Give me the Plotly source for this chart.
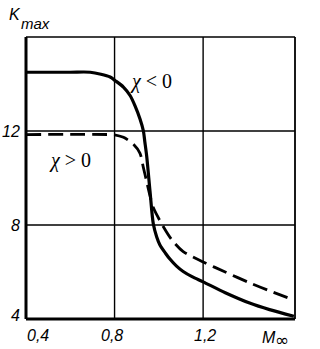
import plotly.graph_objects as go

# Data
mach_neg = [0.40, 0.60, 0.69, 0.78, 0.802, 0.84, 0.87, 0.892, 0.915, 0.93, 0.937, 0.945,
            0.96, 0.975, 0.99, 1.005, 1.03, 1.05, 1.08, 1.11, 1.15, 1.20, 1.30, 1.41, 1.50, 1.61]
kmax_neg = [14.5, 14.5, 14.5, 14.3, 14.15, 13.87, 13.51, 13.08, 12.51, 12.01, 11.52, 10.94,
            9.45, 8.05, 7.5, 7.15, 6.8, 6.55, 6.25, 6.02, 5.8, 5.58, 5.12, 4.68, 4.4, 4.12]

mach_pos = [0.40, 0.78, 0.80, 0.84, 0.885, 0.915, 0.93, 0.945, 0.96, 0.975, 1.013, 1.058,
            1.11, 1.20, 1.30, 1.41, 1.50, 1.61]
kmax_pos = [11.85, 11.85, 11.84, 11.73, 11.44, 11.05, 10.45, 9.85, 9.25, 8.74, 8.05, 7.38,
            6.87, 6.43, 6.0, 5.54, 5.2, 4.81]

x_tick_vals = [0.4, 0.8, 1.2]
x_tick_text = ["0,4", "0,8", "1,2"]
y_tick_vals = [4, 8, 12]
y_tick_text = ["4", "8", "12"]

X_RANGE = [0.4, 1.615]
Y_RANGE = [4, 16]

fig = go.Figure()
fig.add_trace(go.Scatter(x=mach_neg, y=kmax_neg, mode="lines",
                         line=dict(color="black", width=3.2, shape="spline", smoothing=0.8),
                         hoverinfo="skip", showlegend=False))
fig.add_trace(go.Scatter(x=mach_pos, y=kmax_pos, mode="lines",
                         line=dict(color="black", width=2.8, dash="15px,7px", shape="spline", smoothing=0.8),
                         hoverinfo="skip", showlegend=False))

shapes = []
# grid lines
for xv in [0.8, 1.2]:
    shapes.append(dict(type="line", xref="x", yref="paper", x0=xv, x1=xv, y0=0, y1=1,
                       line=dict(color="black", width=1.4), layer="below"))
for yv in [8, 12]:
    shapes.append(dict(type="line", xref="paper", yref="y", x0=0, x1=1, y0=yv, y1=yv,
                       line=dict(color="black", width=1.4), layer="below"))
# frame
shapes.append(dict(type="line", xref="paper", yref="paper", x0=0, x1=1, y0=1, y1=1,
                   line=dict(color="black", width=1.6)))
shapes.append(dict(type="line", xref="paper", yref="paper", x0=1, x1=1, y0=0, y1=1,
                   line=dict(color="black", width=1.8)))
shapes.append(dict(type="line", xref="paper", yref="paper", x0=0, x1=0, y0=0, y1=1,
                   line=dict(color="black", width=3)))
shapes.append(dict(type="line", xref="paper", yref="paper", x0=0, x1=1, y0=0, y1=0,
                   line=dict(color="black", width=3)))

tick_font = dict(family="Liberation Sans", size=16, color="black")
annotations = []
x_shifts = [12, -3, 2]
for v, t, s in zip(x_tick_vals, x_tick_text, x_shifts):
    annotations.append(dict(x=v, y=0, xref="x", yref="paper", text=f"<i>{t}</i>",
                            showarrow=False, xanchor="center", yanchor="top",
                            xshift=s, yshift=-6, font=tick_font))
annotations.append(dict(x=1.497, y=0, xref="x", yref="paper", text="<i>M</i>",
                        showarrow=False, xanchor="center", yanchor="top",
                        yshift=-8, font=tick_font))
annotations.append(dict(x=1.555, y=0, xref="x", yref="paper", text="∞",
                        showarrow=False, xanchor="center", yanchor="top",
                        yshift=-9, font=dict(family="DejaVu Sans", size=17, color="black")))
y_shifts = [4, 0, 0]
for v, t, s in zip(y_tick_vals, y_tick_text, y_shifts):
    annotations.append(dict(x=0, y=v, xref="paper", yref="y", text=f"<i>{t}</i>",
                            showarrow=False, xanchor="right", yanchor="middle",
                            xshift=-4, yshift=s, font=tick_font))
annotations.append(dict(x=0, y=1, xref="paper", yref="paper", text="<i>K</i>",
                        showarrow=False, xanchor="left", yanchor="bottom",
                        xshift=-19, yshift=12, font=dict(family="Liberation Sans", size=16, color="black")))
annotations.append(dict(x=0, y=1, xref="paper", yref="paper", text="<i>max</i>",
                        showarrow=False, xanchor="left", yanchor="bottom",
                        xshift=-7, yshift=3, font=dict(family="Liberation Sans", size=15, color="black")))
serif = dict(family="Liberation Serif", size=20, color="black")
annotations.append(dict(x=0.965, y=14.1, xref="x", yref="y", text="<i>χ</i> < 0",
                        showarrow=False, xanchor="center", yanchor="middle", font=serif))
annotations.append(dict(x=0.6, y=10.75, xref="x", yref="y", text="<i>χ</i> > 0",
                        showarrow=False, xanchor="center", yanchor="middle", font=serif))

fig.update_layout(
    width=320, height=349,
    margin=dict(l=26, r=25, t=37, b=30),
    paper_bgcolor="white", plot_bgcolor="white",
    xaxis=dict(range=X_RANGE, showgrid=False, zeroline=False, showticklabels=False,
               ticks="", showline=False, fixedrange=True),
    yaxis=dict(range=Y_RANGE, showgrid=False, zeroline=False, showticklabels=False,
               ticks="", showline=False, fixedrange=True),
    shapes=shapes, annotations=annotations,
)
fig.write_html("out.html")
